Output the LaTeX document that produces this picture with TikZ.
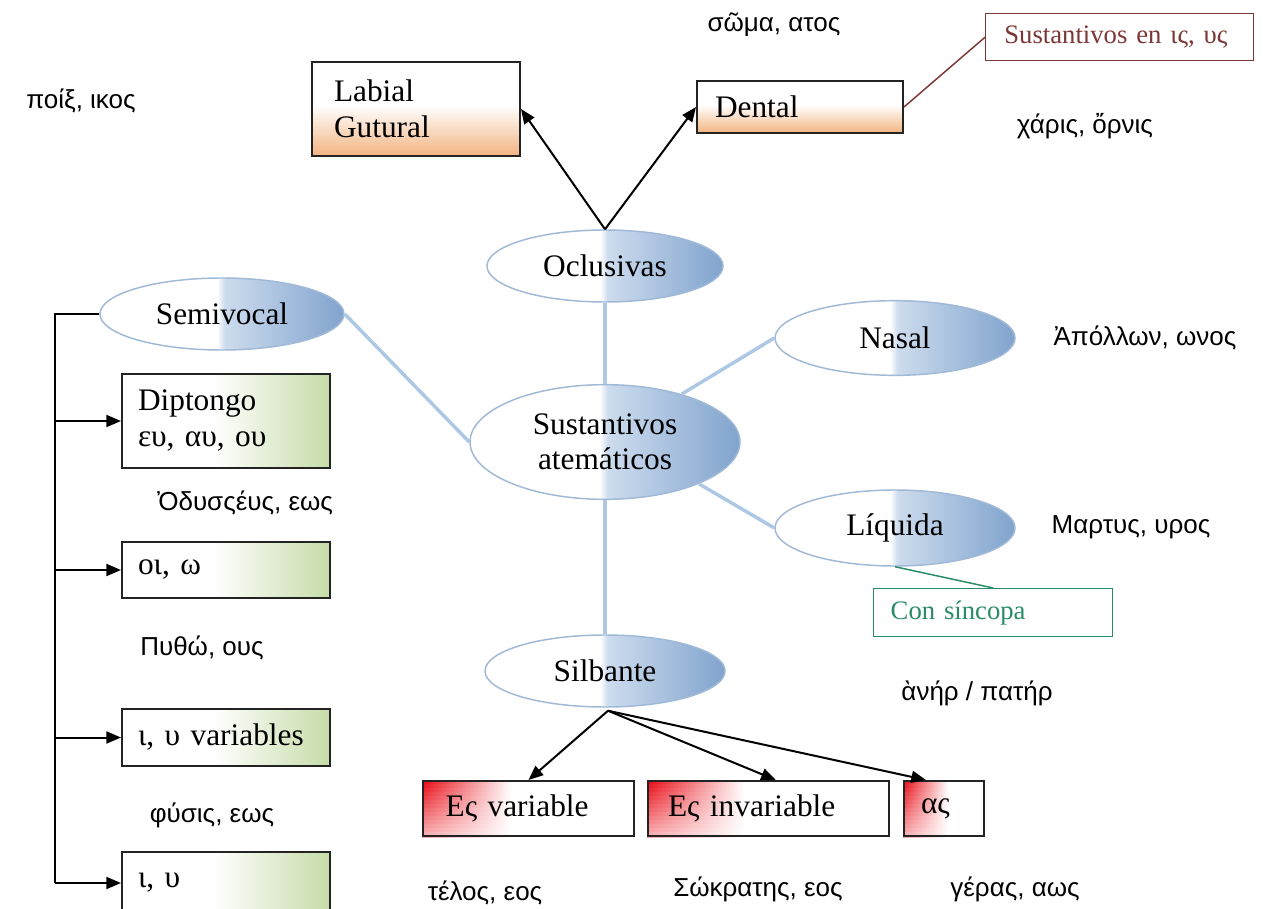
\documentclass[tikz,border=0pt]{standalone}
\usepackage{fontspec}
\setmainfont{Liberation Serif}
\newfontfamily\gk{Liberation Sans}
\usetikzlibrary{arrows.meta,shapes.geometric,calc}
\definecolor{ellline}{RGB}{160,185,215}
\definecolor{ellmid}{RGB}{205,220,238}
\definecolor{elldark}{RGB}{128,163,205}
\definecolor{connblue}{RGB}{172,200,228}
\definecolor{orng}{RGB}{242,180,128}
\definecolor{grn}{RGB}{198,220,168}
\definecolor{rd}{RGB}{232,10,20}
\definecolor{boxline}{RGB}{35,35,35}
\definecolor{dred}{RGB}{125,55,55}
\definecolor{dgreen}{RGB}{40,140,100}
\pgfdeclarehorizontalshading{ellshade}{100bp}{color(0bp)=(white); color(25bp)=(white); color(49bp)=(white); color(50.5bp)=(ellmid); color(75bp)=(elldark); color(100bp)=(elldark)}
\pgfdeclareverticalshading{orshade}{100bp}{color(0bp)=(orng); color(25bp)=(orng); color(52bp)=(white); color(100bp)=(white)}
\pgfdeclarehorizontalshading{grshade}{100bp}{color(0bp)=(white); color(25bp)=(white); color(47bp)=(white); color(75bp)=(grn); color(100bp)=(grn)}
\pgfdeclarelayer{bg}
\pgfsetlayers{bg,main}
\begin{document}
\begin{tikzpicture}[x=0.75pt,y=-0.75pt,
  ell/.style={ellipse, draw=ellline, line width=1.1pt, shading=ellshade, inner sep=0pt, align=center, font=\fontsize{23.5}{26.5}\selectfont},
  box/.style={rectangle, draw=boxline, line width=1.5pt, anchor=north west, inner ysep=0pt, align=left, font=\fontsize{23.5}{27}\selectfont},
  gtext/.style={font=\gk\fontsize{19.5}{22}\selectfont, inner sep=0pt},
  blk/.style={draw=black, line width=1.5pt, -{Triangle[length=11pt,width=9pt]}},
  conn/.style={draw=connblue, line width=2.6pt},
]
\useasboundingbox (0,0) rectangle (1263,909);
\clip (0,0) rectangle (1263,909);
\begin{pgfonlayer}{bg}
  \fill[white] (0,0) rectangle (1263,909);
\end{pgfonlayer}

% ellipses
\node[ell, minimum width=177pt, minimum height=54pt] (ocl) at (605,266) {Oclusivas};
\node[ell, minimum width=183pt, minimum height=54pt] (semi) at (222,314) {Semivocal};
\node[ell, minimum width=202.5pt, minimum height=86pt] (sust) at (605,442) {Sustantivos\\atemáticos};
\node[ell, minimum width=180pt, minimum height=56pt] (nasal) at (895,338) {Nasal};
\node[ell, minimum width=180pt, minimum height=57pt] (liq) at (895,528) {Líquida};
\node[ell, minimum width=180pt, minimum height=54pt] (silb) at (605,671) {Silbante};

% boxes
\node[box, shading=orshade, minimum height=70.5pt, inner xsep=16.5pt, text width=123pt] (lab) at (311,61) {Labial\\Gutural};
\node[box, shading=orshade, minimum height=39pt, inner xsep=13.5pt, text width=127.5pt] (dent) at (696,80) {Dental};
\node[box, draw=dred, line width=1.1pt, fill=white, text=dred, font=\fontsize{20}{24}\selectfont, minimum height=35.25pt, inner xsep=14pt, text width=173pt] (susten) at (985,13) {Sustantivos en ις, υς};
\node[box, draw=dgreen, line width=1.1pt, fill=white, text=dgreen, font=\fontsize{20}{24}\selectfont, minimum height=36pt, inner xsep=12.75pt, text width=153.75pt] (con) at (873,588) {Con síncopa};

\node[box, shading=grshade, minimum height=70.5pt, inner xsep=12pt, text width=132pt] (dip) at (121,373) {Diptongo\\ευ, αυ, ου};
\node[box, shading=grshade, minimum height=42pt, inner xsep=12pt, text width=132pt] (oi) at (121,541) {οι, ω};
\node[box, shading=grshade, minimum height=42.75pt, inner xsep=12pt, text width=132pt] (iuv) at (121,708) {ι, υ variables};
\node[box, shading=grshade, minimum height=46.5pt, inner xsep=12pt, text width=132pt] (iu) at (121,851) {ι, υ};

\node[box, minimum height=41.25pt, inner xsep=17pt, text width=124.25pt] (esv) at (422,780) {Ες variable};
\node[box, minimum height=41.25pt, inner xsep=15pt, text width=150.75pt] (esi) at (647,780) {Ες invariable};
\node[box, minimum height=41.25pt, inner xsep=12.75pt, text width=34.5pt] (as) at (903,780) {ας};
\begin{pgfonlayer}{bg}
  \foreach \b/\f in {esv/0.42,esi/0.4,as/0.55}{
    \foreach \i in {0,...,13}{
      \pgfmathsetmacro{\p}{100-5*\i}
      \pgfmathsetmacro{\q}{0.72*(100-5*\i)}
      \fill[left color=rd!\p!white, middle color=rd!\q!white, right color=white]
        ($(\b.north west)!\i/14!(\b.south west)$) rectangle
        ($(\b.north west)!\f!(\b.north east)!{(\i+1.2)/14}!($(\b.south west)!\f!(\b.south east)$)$);
    }
  }
\end{pgfonlayer}

% light blue connectors
\draw[conn] (ocl) -- (sust);
\draw[conn] (semi.east) -- (sust.west);
\draw[conn] (nasal.west) -- (sust.32);
\draw[conn] (liq.west) -- (sust.-24);
\draw[conn] (sust.south) -- (silb.north);

% thin coloured connectors
\draw[draw=dred, line width=1.1pt] (dent.east) -- (susten.west);
\draw[draw=dgreen, line width=1.1pt] (liq.south) -- (con.north);

% black arrows
\draw[blk] (ocl.north) -- (lab.east);
\draw[blk] (ocl.north) -- (dent.west);
\coordinate (silbtip) at ($(silb.south)+(3,3)$);
\draw[blk] (silbtip) -- (esv.north);
\draw[blk] (silbtip) -- ($(esi.north west)!0.53!(esi.north east)$);
\draw[blk] (silbtip) -- ($(as.north west)!0.28!(as.north east)$);

% left tree
\coordinate (trunk) at (55,0);
\draw[line width=1.5pt] (semi.west) -- (semi.west -| trunk) -- (iu.west -| trunk);
\draw[blk] (dip.west -| trunk) -- (dip.west);
\draw[blk] (oi.west -| trunk) -- (oi.west);
\draw[blk] (iuv.west -| trunk) -- (iuv.west);
\draw[blk] (iu.west -| trunk) -- (iu.west);

% examples
\node[gtext] (t1) at (81,101) {ποίξ, ικος};
\node[gtext] (t2) at (774,25) {σῶμα, ατος};
\node[gtext] (t3) at (1085,126) {χάρις, ὄρνις};
\node[gtext] (t4) at (1145,338) {Ἀπόλλων, ωνος};
\node[gtext] (t5) at (1131,527) {Μαρτυς, υρος};
\node[gtext] (t6) at (977,693) {ὰνήρ / πατήρ};
\node[gtext] (t7) at (245,503) {Ὀδυσςέυς, εως};
\node[gtext] (t8) at (202,648) {Πυθώ, ους};
\node[gtext] (t9) at (212,815) {φύσις, εως};
\node[gtext] (t10) at (485,893) {τέλος, εος};
\node[gtext] (t11) at (758,889) {Σώκρατης, εος};
\node[gtext] (t12) at (1015,889) {γέρας, αως};
\end{tikzpicture}
\end{document}
